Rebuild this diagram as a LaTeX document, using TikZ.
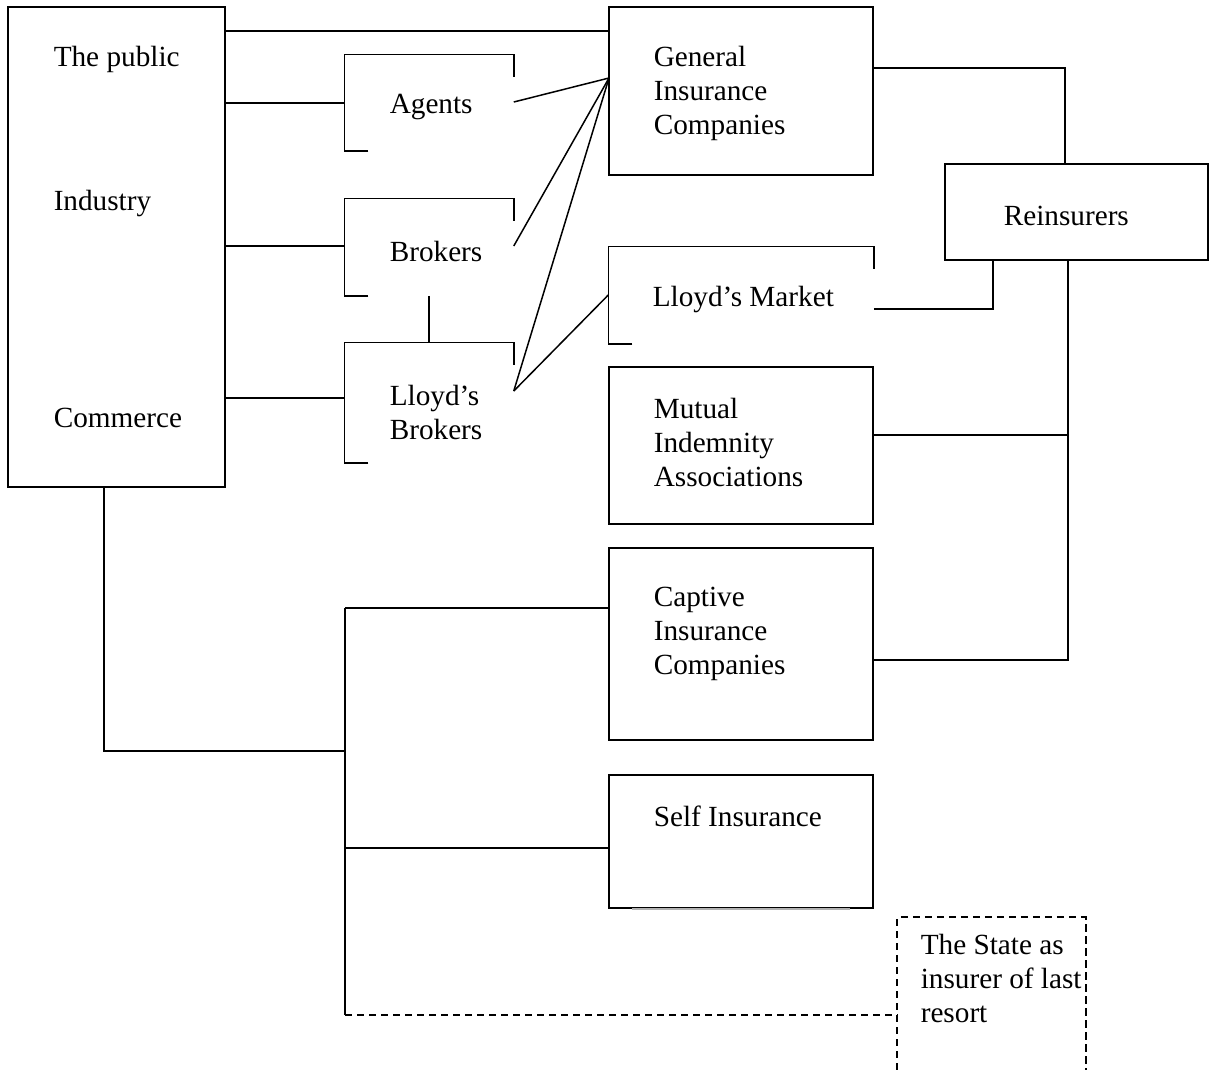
\documentclass[tikz,border=0pt]{standalone}
\usepackage{fontspec}
\setmainfont{Liberation Serif}
\usetikzlibrary{fit,calc}

\tikzset{
  zone/.style={inner sep=0pt, fit={#1}},
  box/.style={draw, zone={#1}},
  txt/.style={anchor=west, align=left, inner sep=0pt, font=\fontsize{11.7pt}{13.6pt}\selectfont},
  statedash/.style={line width=0.7pt, dash pattern=on 2.9pt off 1.9pt},
}
\newcommand\openframe[1]{\draw (#1.south west) ++(24,0) -- (#1.south west) |- (#1.north east) -- ++(0,23);}

\begin{document}
\begin{tikzpicture}[x=0.4pt, y=-0.4pt, line width=0.6pt]
\useasboundingbox (0,0) rectangle (1210,1069);

\node[box={(8,7) (225,487)}] (pub) {};
\node[box={(609,7) (873,175)}] (gen) {};
\node[box={(945,164) (1208,260)}] (rei) {};
\node[box={(609,367) (873,524)}] (mia) {};
\node[box={(609,548) (873,740)}] (cap) {};
\node[box={(609,775) (873,908)}] (self) {};
\node[zone={(345,55) (513,150)}] (agt) {};
\node[zone={(345,199) (513,295)}] (brk) {};
\node[zone={(345,343) (513,462)}] (lbr) {};
\node[zone={(609,247) (873,343)}] (lm) {};
\node[zone={(898,918) (1085,1069)}] (state) {};
\openframe{agt} \openframe{brk} \openframe{lbr} \openframe{lm}
\draw[gray!60] ($(self.south west)+(24,0)$) -- ($(self.south east)+(-24,0)$);
\draw[statedash] (state.south west) |- (state.north east) -- (state.south east);

\node[txt] (tpub) at (53,59) {The public};
\node[txt] (tind) at (53,203) {Industry};
\node[txt] (tcom) at (53,418) {Commerce};
\node[txt] (tagt) at (389,107) {Agents};
\node[txt] (tbrk) at (389,251) {Brokers};
\node[txt] (tlbr) at (389,412) {Lloyd’s\\Brokers};
\node[txt] (tgen) at (653,93) {General\\Insurance\\Companies};
\node[txt] (tlm) at (652,299) {Lloyd’s Market};
\node[txt] (trei) at (1003,216) {Reinsurers};
\node[txt] (tmia) at (653,442) {Mutual\\Indemnity\\Associations};
\node[txt] (tcap) at (653,634) {Captive\\Insurance\\Companies};
\node[txt] (tself) at (653,816) {Self Insurance};
\node[txt] (tstate) at (920,978) {The State as\\insurer of last\\resort};

\draw (pub.east |- 0,31) -- (gen.west |- 0,31);
\draw (pub.east |- 0,103) -- (agt.west |- 0,103);
\draw (pub.east |- 0,246) -- (brk.west |- 0,246);
\draw (pub.east |- 0,398) -- (lbr.west |- 0,398);
\draw (brk.south) -- (lbr.north);

\coordinate (fan) at (609,78);
\draw (agt.east |- 0,102) -- (fan);
\draw (brk.east |- 0,246) -- (fan);
\draw (lbr.east |- 0,391) -- (fan);
\draw (lbr.east |- 0,391) -- (lm.west);

\draw (gen.east |- 0,68) -| (rei.north -| 1065,0);
\draw (lm.east |- 0,309) -| (rei.south -| 993,0);
\draw (rei.south -| 1068,0) |- (cap.east |- 0,660);
\draw (mia.east |- 0,435) -- (1068,435);

\draw (pub.south -| 104,0) |- (345,751);
\draw (345,608) -- (345,1015);
\draw (345,608) -- (cap.west |- 0,608);
\draw (345,848) -- (self.west |- 0,848);
\draw[statedash] (345,1015) -- (state.west |- 0,1015);
\end{tikzpicture}
\end{document}
